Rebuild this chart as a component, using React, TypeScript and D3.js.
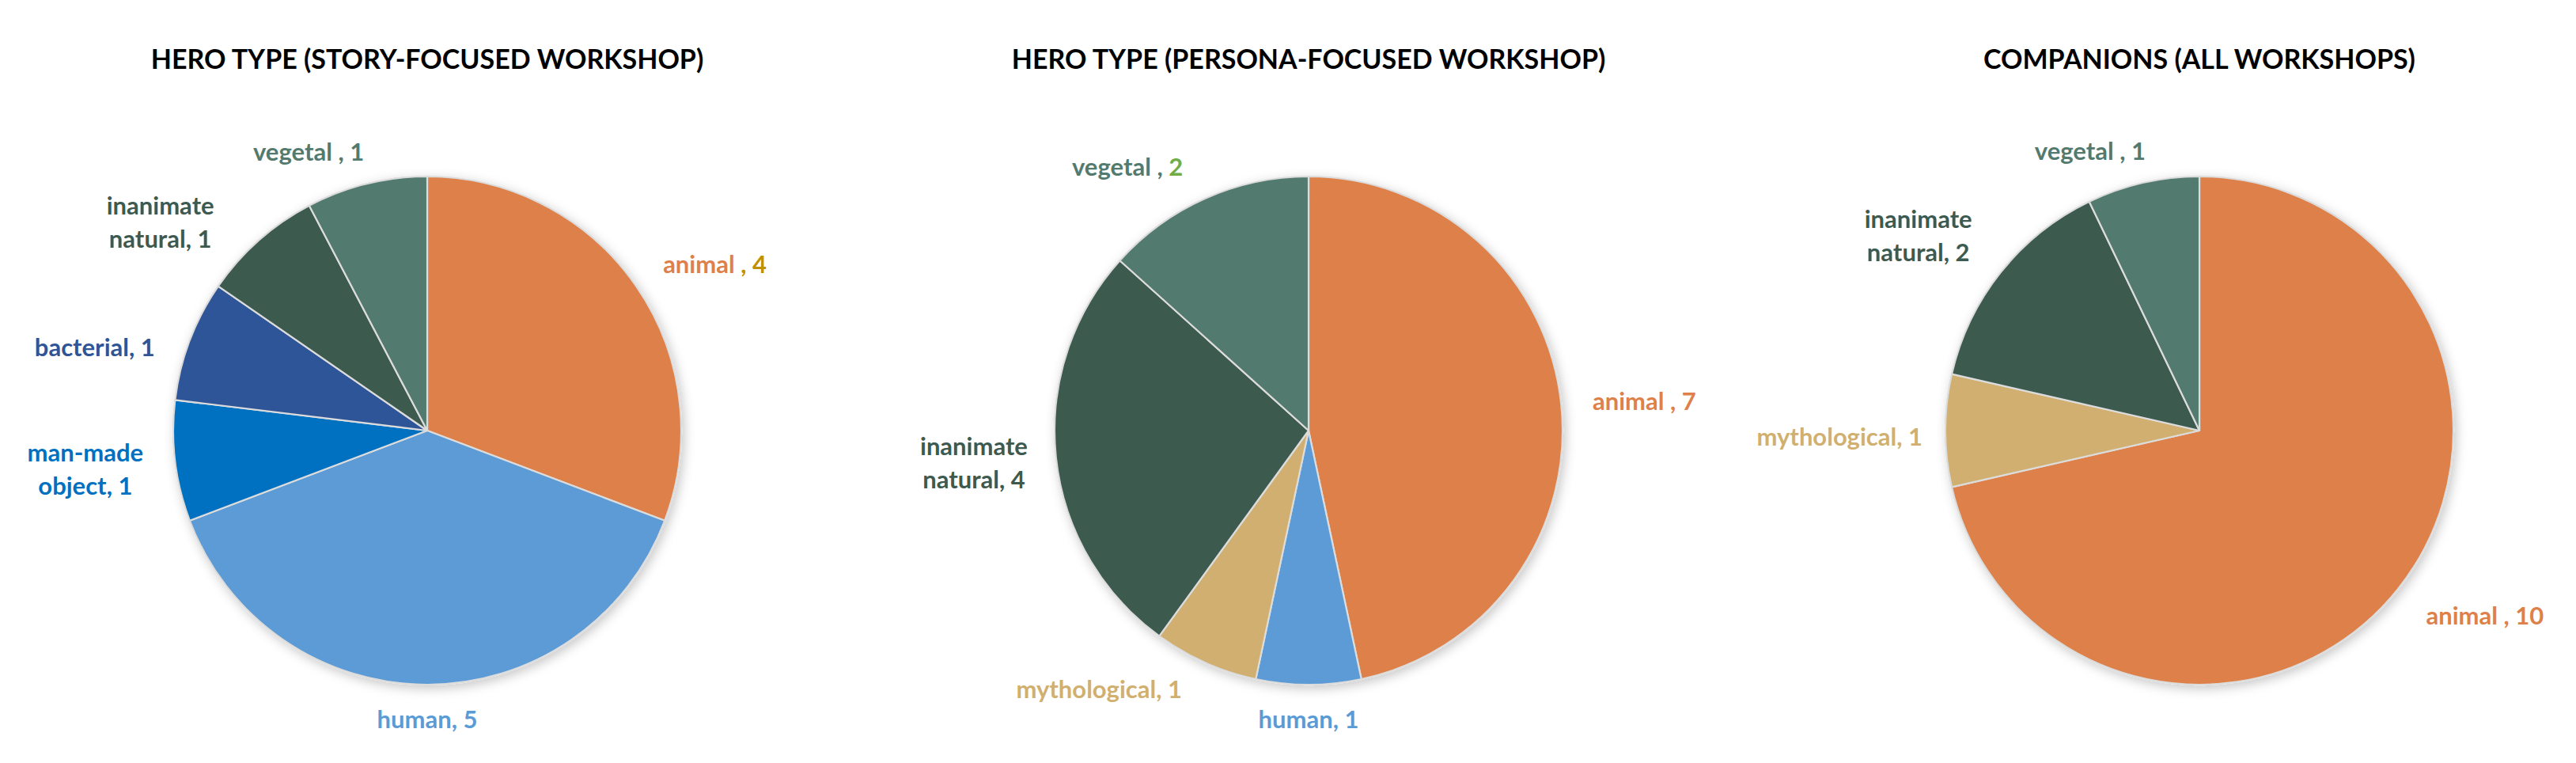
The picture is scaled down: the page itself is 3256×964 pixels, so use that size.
import React from 'react';
import * as d3 from 'd3';

// chart data
const titles = [
  'HERO TYPE (STORY-FOCUSED WORKSHOP)',
  'HERO TYPE (PERSONA-FOCUSED WORKSHOP)',
  'COMPANIONS (ALL WORKSHOPS)',
];

const storyCategories = ['animal ', 'human', 'man-made object', 'bacterial', 'inanimate natural', 'vegetal '];
const storyValues = [4, 5, 1, 1, 1, 1];

const personaCategories = ['animal ', 'human', 'mythological', 'inanimate natural', 'vegetal '];
const personaValues = [7, 1, 1, 4, 2];

const companionCategories = ['animal ', 'mythological', 'inanimate natural', 'vegetal '];
const companionValues = [10, 1, 2, 1];

const colors: Record<string, string> = {
  'animal ': '#DE8049',
  human: '#5B9BD5',
  'man-made object': '#0070C0',
  bacterial: '#2F5597',
  'inanimate natural': '#3D5A50',
  'vegetal ': '#527A6E',
  mythological: '#D0AF6F',
};

// a couple of labels have their value part in another colour
const valueColors: Record<string, string> = {
  '0:animal ': '#BF9000',
  '1:vegetal ': '#70AD47',
};
const sepColors: Record<string, string> = {
  '0:animal ': '#BF9000',
};

// label placement: [angle shift in degrees, distance as a share of the radius]
const labelPlacement = [
  [[4.6, 1.308], [0, 1.137], [0.4, 1.355], [-6.8, 1.349], [-10.5, 1.333], [-9.2, 1.193]],
  [[1, 1.327], [0, 1.137], [15, 1.311], [0.5, 1.324], [-10.5, 1.259]],
  [[-5.6, 1.34], [-1, 1.417], [-3.9, 1.346], [-8.5, 1.181]],
];

const charts = [
  { title: titles[0], categories: storyCategories, values: storyValues },
  { title: titles[1], categories: personaCategories, values: personaValues },
  { title: titles[2], categories: companionCategories, values: companionValues },
];

const width = 3256;
const height = 964;
const radius = 321;
const centersX = [540, 1654, 2780];
const centerY = 544;
const font = 'Lato, "Open Sans", sans-serif';
const lineH = 42;

const App = () => {
  const pie = d3.pie<number>().sort(null).value(d => d);
  const arc = d3.arc<d3.PieArcDatum<number>>().innerRadius(0).outerRadius(radius);

  return (
    <svg width={width} height={height} style={{ position: 'absolute', left: 0, top: 0, background: '#fff' }}>
      <defs>
        <filter id="shadow" x="-20%" y="-20%" width="140%" height="140%">
          <feDropShadow dx="3" dy="4" stdDeviation="7" floodColor="#000" floodOpacity="0.22" />
        </filter>
      </defs>
      {charts.map((c, ci) => {
        const arcs = pie(c.values);
        const cx = centersX[ci];
        return (
          <g key={ci}>
            <text x={cx} y={87} textAnchor="middle" fontFamily={font} fontWeight={700} fontSize={34} fill="#000">
              {c.title}
            </text>
            <g transform={`translate(${cx},${centerY})`}>
              <g filter="url(#shadow)">
                {arcs.map((a, i) => (
                  <path key={i} d={arc(a) || ''} fill={colors[c.categories[i]]} stroke="#dcdcdc" strokeWidth={2.2} strokeLinejoin="round" />
                ))}
              </g>
              {arcs.map((a, i) => {
                const [shift, k] = labelPlacement[ci][i];
                const mid = (a.startAngle + a.endAngle) / 2 + (shift * Math.PI) / 180;
                const lx = Math.sin(mid) * radius * k;
                const ly = -Math.cos(mid) * radius * k;
                const name = c.categories[i];
                const key = `${ci}:${name}`;
                const col = colors[name];
                const trimmed = name.trim();
                // Excel kept the trailing space of some category names: "animal , 4"
                const sep = name.endsWith(' ') ? ' ,\u00a0' : ',\u00a0';
                const parts = trimmed.split(' ');
                const y0 = ly - ((parts.length - 1) * lineH) / 2 + 11;
                return (
                  <text key={i} textAnchor="middle" fontFamily={font} fontWeight={700} fontSize={31} fill={col}>
                    {parts.map((p, pi) => (
                      <tspan key={pi} x={lx} y={y0 + pi * lineH}>
                        {p}
                        {pi === parts.length - 1 && (
                          <>
                            <tspan fill={sepColors[key] || col}>{sep}</tspan>
                            <tspan fill={valueColors[key] || col}>{c.values[i]}</tspan>
                          </>
                        )}
                      </tspan>
                    ))}
                  </text>
                );
              })}
            </g>
          </g>
        );
      })}
    </svg>
  );
};

export default App;
